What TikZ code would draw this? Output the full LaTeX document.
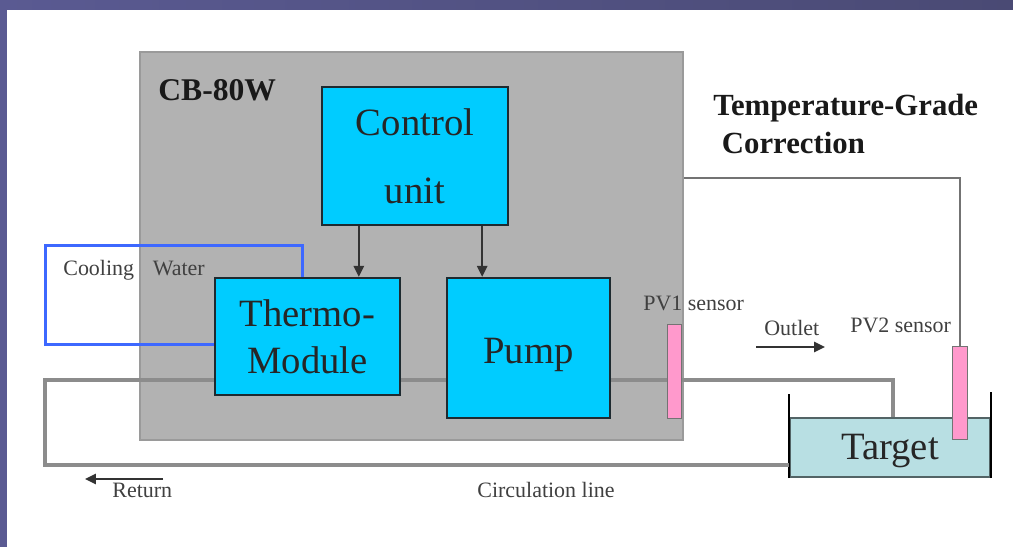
\documentclass[tikz,border=0pt]{standalone}
\usepackage{fontspec}
\setmainfont{Liberation Serif}
\usetikzlibrary{arrows.meta}
\definecolor{tcpurple}{HTML}{5A5A92}
\definecolor{tcpurpledk}{HTML}{4A4A74}
\definecolor{tcgray}{HTML}{B2B2B2}
\definecolor{tcedge}{HTML}{9A9A9A}
\definecolor{tccyan}{HTML}{00CCFF}
\definecolor{tcblue}{HTML}{3D68FF}
\definecolor{tcpink}{HTML}{FF99CC}
\definecolor{tcwater}{HTML}{B8DFE3}
\definecolor{tcpipe}{HTML}{8C8C8C}
\definecolor{tcink}{HTML}{1E2A30}
\tikzset{
  tcunit/.style={draw=tcink, line width=1.4pt, fill=tccyan, inner sep=0pt, align=center,
    text=black!85, font=\fontsize{22}{27}\selectfont},
  tcsensor/.style={draw=black!55, line width=0.8pt, fill=tcpink, inner sep=0pt,
    minimum width=0.29cm, minimum height=1.87cm},
  tcline/.style={draw=tcpipe, line width=1.8pt},
  tcarrow/.style={-{Triangle[length=2.2mm,width=2.1mm]}, line width=0.9pt, draw=black!80},
  tclabel/.style={anchor=west, inner sep=0pt, text=black!75, font=\fontsize{12.5}{15}\selectfont},
  tctitle/.style={inner sep=0pt, text=black!90, font=\bfseries\fontsize{18}{22}\selectfont}
}
\begin{document}
\begin{tikzpicture}[x=0.02cm, y=-0.02cm]
\shade[left color=tcpurple, right color=tcpurpledk] (0,0) rectangle (1013,547);
\fill[white] (7,10) rectangle (1013,547);
\useasboundingbox (0,0) rectangle (1013,547);

% housing and cooling water
\node[draw=tcedge, line width=1.2pt, fill=tcgray, inner sep=0pt,
  minimum width=10.86cm, minimum height=7.76cm] (cb) at (411.5,246) {};
\node[tctitle, anchor=west] (cbname) at (158,90) {CB-80W};
\node[draw=tcblue, line width=1.7pt, inner sep=0pt,
  minimum width=5.16cm, minimum height=2cm] (cooling) at (174,295) {};
\node[tclabel] (coolname) at (63,270) {Cooling\hspace{0.85em}Water};

% target and circulation line
\node[fill=tcwater, draw=black!55!tcwater, line width=1.2pt, inner sep=0pt, text=black!85,
  minimum width=4cm, minimum height=1.18cm, font=\fontsize{22}{26}\selectfont] (target)
  at (890,447.5) {\raisebox{-0.24cm}[0pt][0pt]{Target}};
\draw[line width=1.4pt] (target.south west) -- ++(0,-84);
\draw[line width=1.4pt] (target.south east) -- ++(0,-86);
\coordinate (looptl) at (45,380);
\coordinate (loopbl) at (45,465);
\draw[tcline] ([xshift=0.06cm]target.north) |- (looptl) -- (loopbl) -- (loopbl -| target.west);

% units
\node[tcunit, minimum width=3.72cm, minimum height=2.76cm,
  font=\fontsize{22}{38.5}\selectfont] (ctrl) at (415,156) {Control\\unit};
\node[tcunit, minimum width=3.7cm, minimum height=2.34cm] (thermo) at (307.5,336.5) {Thermo-\\Module};
\node[tcunit, minimum width=3.26cm, minimum height=2.8cm] (pump) at (528.5,348)
  {\raisebox{-0.3cm}[0pt][0pt]{Pump}};
\path ([xshift=0.76cm]ctrl.south west) coordinate (ctrlL);
\path ([xshift=-0.54cm]ctrl.south east) coordinate (ctrlR);
\draw[tcarrow] (ctrlL) -- (ctrlL |- thermo.north);
\draw[tcarrow] (ctrlR) -- (ctrlR |- pump.north);

% sensors
\node[tcsensor] (pv1) at (674.5,371.5) {};
\node[tclabel] (pv1name) at (643,303) {PV1 sensor};
\node[tcsensor] (pv2) at (960,393) {};
\node[tclabel] (pv2name) at (850,325) {PV2 sensor};
\draw[draw=black!55, line width=1.1pt] ([yshift=1.36cm]cb.east) -| (pv2.north);
\node[tctitle, anchor=north west, align=left, font=\bfseries\fontsize{17.5}{21.5}\selectfont] (tgc)
  at (713,94) {Temperature-Grade\\\hspace*{0.28em}Correction};

% flow labels
\node[tclabel] (outname) at (764,328) {Outlet};
\coordinate (outa) at (756,347);
\coordinate (outb) at (825,347);
\draw[tcarrow] (outa) -- (outb);
\node[tclabel] (retname) at (112,490) {Return};
\coordinate (reta) at (163,479);
\coordinate (retb) at (85,479);
\draw[tcarrow] (reta) -- (retb);
\node[tclabel] (circname) at (477,490) {Circulation line};
\end{tikzpicture}
\end{document}
